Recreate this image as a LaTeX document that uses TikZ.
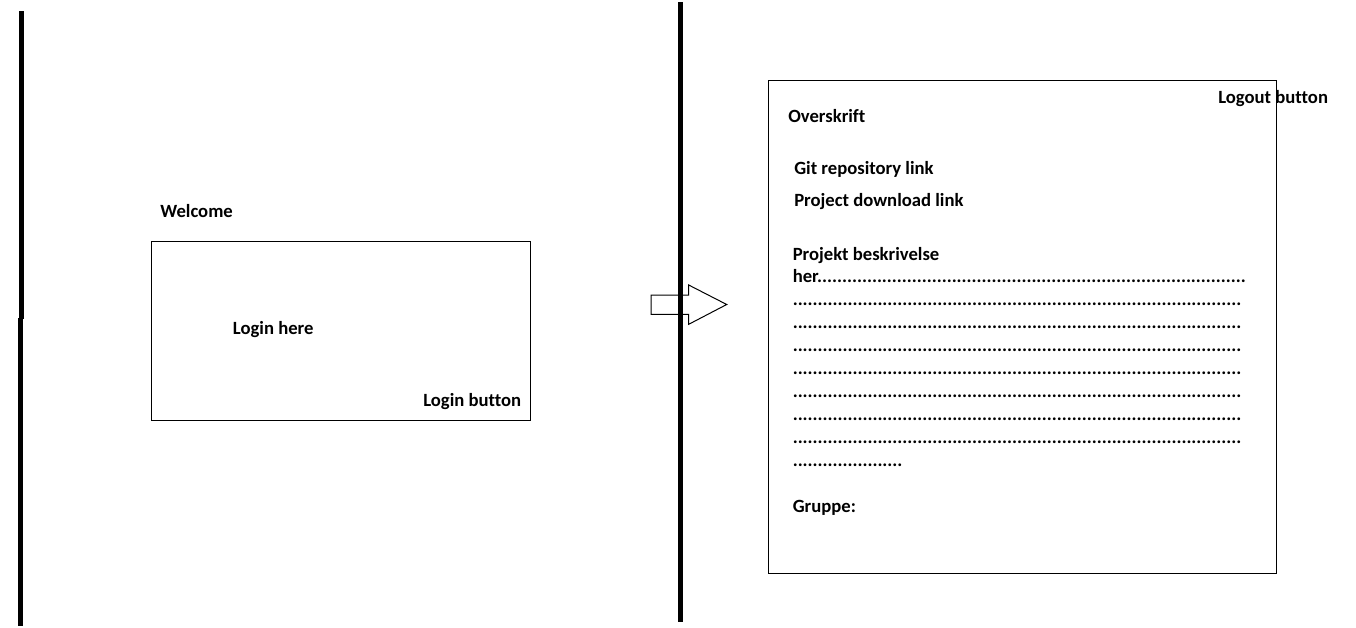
\documentclass[tikz,border=0pt]{standalone}
\usepackage{fontspec}
\setmainfont{Carlito}[Ligatures=NoCommon]
\usetikzlibrary{positioning}

\tikzset{
  txt/.style={font=\fontsize{14}{17}\selectfont\bfseries, anchor=base west, inner sep=0pt},
  divider/.style={line width=3.5pt},
  frame/.style={line width=0.75pt},
}
\newcommand{\dotrow}[1]{\foreach \i in {1,...,#1}{.}}

\begin{document}
\begin{tikzpicture}[x=0.75pt, y=-0.75pt]
\useasboundingbox (0,0) rectangle (1356,628);

% Login page
\draw[divider] (21.3,11) -- (21.3,318.8);
\draw[divider] (20.2,318) -- (20.2,626);
\node[txt] (welcome) at (160,217) {Welcome};
\draw[frame] (151.5,241.5) rectangle (530.5,420.5);
\node[txt] (loginhere) at (232.7,334) {Login here};
\node[txt] (loginbtn) at (423,406) {Login button};

% Arrow
\draw[frame, fill=white] (651,295) -- (688.7,295) -- (688.7,285) -- (726.7,304.5)
  -- (688.7,324.3) -- (688.7,314.3) -- (651,314.3) -- cycle;
\draw[divider] (680.4,2) -- (680.4,622);

% Project page
\draw[frame] (768.5,80.5) rectangle (1276.5,573.5);
\node[txt] (overskrift) at (788,122) {Overskrift};
\node[txt] (logout) at (1218,103) {Logout button};
\node[txt] (git) at (794,174) {Git repository link};
\node[txt] (download) at (794,206) {Project download link};
\node[txt] (desc) at (792.5,260.7) {Projekt beskrivelse};
\node[txt] (her) at (792.5,282.7) {her\dotrow{86}};
\foreach \k in {0,...,6}
  \node[txt] (row\k) at (792.5,305.5+23*\k) {\dotrow{90}};
\node[txt] (lastrow) at (792.5,466.5) {\dotrow{22}};
\node[txt] (gruppe) at (792.5,512.7) {Gruppe:};
\end{tikzpicture}
\end{document}
